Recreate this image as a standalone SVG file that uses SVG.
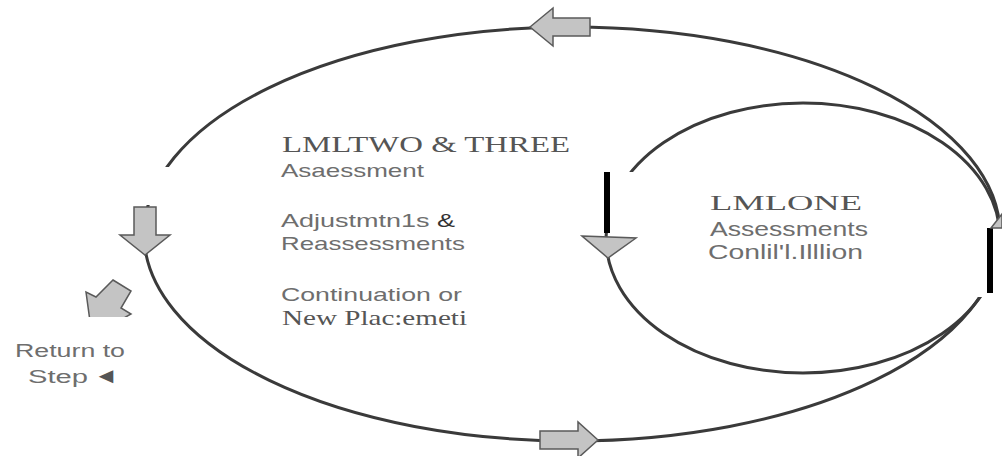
<svg xmlns="http://www.w3.org/2000/svg" width="1002" height="456" viewBox="0 0 1002 456">
<defs>
<style>
.loop{fill:none;stroke:#3a3a3a;stroke-width:3}
.mask{fill:#ffffff}
.bar{fill:#000000}
.arr{fill:#c4c4c4;stroke:#5a5a5a;stroke-width:1.5;stroke-linejoin:miter}
.serif{font-family:"Liberation Serif","Times New Roman",serif;fill:#555555}
.sans{font-family:"Liberation Sans",Arial,sans-serif;fill:#6e6e6e}
</style>
<clipPath id="retclip"><rect x="82" y="203" width="100" height="114"/></clipPath>
</defs>
<rect width="1002" height="456" fill="#ffffff"/>
<g id="connectors">
<ellipse class="loop" cx="572" cy="234" rx="428" ry="207"/>
<ellipse class="loop" cx="803" cy="238" rx="197" ry="135"/>
<rect class="mask" x="128" y="167" width="50" height="38"/>
<rect class="mask" x="608" y="172" width="362" height="61"/>
<rect class="mask" x="700" y="228" width="302" height="69"/>
<rect class="bar" x="604" y="172" width="6" height="61"/>
<rect class="bar" x="987" y="228" width="6" height="65"/>
<polygon class="arr" points="530,27 553,8 553,18 590,18 590,36 553,36 553,46"/>
<polygon class="arr" points="598,440 578,422 578,431 540,431 540,449 578,449 578,458"/>
<polygon class="arr" points="134,207 156,207 156,235 170,235 145,255 120,235 134,235"/>
<polygon class="arr" points="582,236 636,238 608,258"/>
<polygon class="arr" points="991,228 1002,214 1002,228"/>
<g clip-path="url(#retclip)">
<polygon class="arr" points="113,280 131,291 121,308 131,314 92,336 86,292 96,297"/>
</g>
</g>
<g id="node-lml23">
<text class="serif" x="282" y="152" font-size="23" textLength="288" lengthAdjust="spacingAndGlyphs">LMLTWO &amp; THREE</text>
<text class="sans" x="281" y="177" font-size="19" textLength="143" lengthAdjust="spacingAndGlyphs">Asaessment</text>
<text class="sans" x="281" y="227" font-size="19" textLength="174" lengthAdjust="spacingAndGlyphs">Adjustmtn1s <tspan fill="#333333">&amp;</tspan></text>
<text class="sans" x="281" y="250" font-size="19" textLength="184" lengthAdjust="spacingAndGlyphs">Reassessments</text>
<text class="sans" x="281" y="301" font-size="19" textLength="181" lengthAdjust="spacingAndGlyphs">Continuation or</text>
<text class="serif" x="282" y="325" font-size="21" textLength="185" lengthAdjust="spacingAndGlyphs" fill="#6e6e6e">New Plac:emeti</text>
</g>
<g id="node-lml1">
<text class="serif" x="710" y="210" font-size="22" textLength="152" lengthAdjust="spacingAndGlyphs" fill="#666666">LMLONE</text>
<text class="sans" x="710" y="236" font-size="19.5" textLength="158" lengthAdjust="spacingAndGlyphs">Assessments</text>
<text class="sans" x="708" y="259" font-size="19.5" textLength="155" lengthAdjust="spacingAndGlyphs">Conlil'l.Illlion</text>
</g>
<g id="node-return">
<text class="sans" x="15" y="357" font-size="18" textLength="110" lengthAdjust="spacingAndGlyphs">Return to</text>
<text x="28" y="383" font-size="18" font-family="'Liberation Sans','DejaVu Sans',sans-serif" fill="#6e6e6e"><tspan textLength="60" lengthAdjust="spacingAndGlyphs">Step</tspan><tspan x="94" font-size="22" fill="#555555" textLength="24" lengthAdjust="spacingAndGlyphs">◄</tspan></text>
</g>
</svg>
